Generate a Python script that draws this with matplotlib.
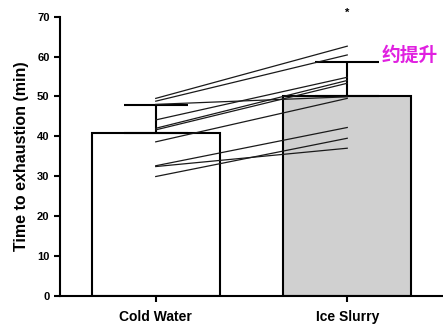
import matplotlib
matplotlib.use("Agg")
from matplotlib import pyplot as plt
import numpy as np

# group means and SD (upper error bars only)
groups = ["Cold Water", "Ice Slurry"]
means = [40.8, 50.2]
sds = [7.0, 8.4]

# individual subjects: cold water -> ice slurry
cold = [49.5, 48.8, 48.0, 44.1, 42.0, 41.6, 38.6, 32.6, 32.4, 29.9]
ice = [62.6, 60.4, 49.9, 54.8, 54.0, 53.3, 49.5, 42.2, 37.0, 39.5]

yticks = [0, 10, 20, 30, 40, 50, 60, 70]

plt.rcParams['font.family'] = ['Liberation Sans', 'DejaVu Sans']

fig = plt.figure(figsize=(4.43, 3.27), dpi=100)
ax = fig.add_axes([0.1354, 0.0957, 0.8646, 0.8533])

x = np.arange(len(groups))
ax.bar(x, means, width=0.667, color=["white", "#d0d0d0"], edgecolor="black",
       linewidth=1.5, zorder=2)
ax.errorbar(x, means, yerr=[np.zeros(len(sds)), sds], fmt="none", ecolor="black",
            elinewidth=1.5, capsize=23, capthick=1.5, zorder=3)

for a, b in zip(cold, ice):
    ax.plot([0, 1], [a, b], color="#1a1a1a", linewidth=0.9, zorder=4)

ax.text(1, 70.9, "*", ha="center", va="center", fontsize=8, fontweight="bold",
        clip_on=False)
ax.text(1.18, 60.4, "约提升", color="#e020e0", fontsize=13.5, fontweight="bold",
        family=["Noto Sans CJK SC", "DejaVu Sans"], ha="left", va="center",
        clip_on=False)

ax.set_xlim(-0.5, 1.5)
ax.set_ylim(0, 70)
ax.set_xticks(x)
ax.set_xticklabels(groups, fontsize=10, fontweight="bold")
ax.set_yticks(yticks)
ax.set_yticklabels([str(t) for t in yticks], fontsize=8, fontweight="bold")
ax.set_ylabel("Time to exhaustion (min)", fontsize=11.5, fontweight="bold",
              labelpad=6)
ax.spines["top"].set_visible(False)
ax.spines["right"].set_visible(False)
ax.spines["left"].set_linewidth(1.5)
ax.spines["bottom"].set_linewidth(1.5)
ax.tick_params(width=1.5, length=4, direction="out")
ax.tick_params(axis="x", pad=6)

fig.savefig("out.png", dpi=100)
